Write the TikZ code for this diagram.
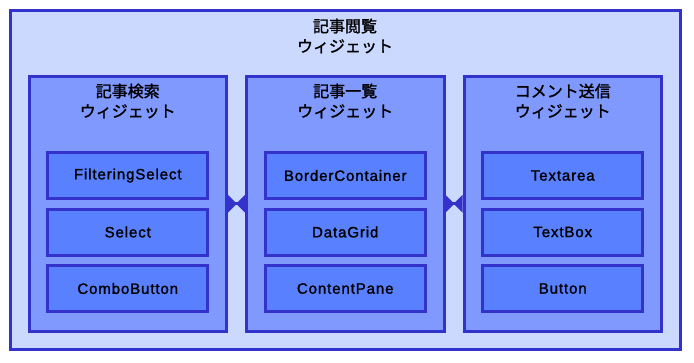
\documentclass[tikz,border=0pt]{standalone}
\usepackage{fontspec}
\setmainfont{Liberation Sans}[FakeBold=1.5]
\newfontfamily\jpfont{Noto Sans CJK JP}[FakeBold=1.5]
\usetikzlibrary{arrows.meta}
\definecolor{rim}{RGB}{51,51,204}
\definecolor{paleblue}{RGB}{204,217,255}
\definecolor{midblue}{RGB}{128,153,255}
\definecolor{deepblue}{RGB}{89,128,255}
\tikzset{
  frame/.style={draw=rim,line width=3pt,inner sep=0pt},
  panel/.style={frame,fill=midblue,minimum width=197.5pt,minimum height=254.5pt},
  part/.style={frame,fill=deepblue,minimum width=160pt,minimum height=46pt,
    font=\fontsize{15}{18}\selectfont\addfontfeatures{LetterSpace=6}},
  caption/.style={align=center,font=\jpfont\fontsize{16}{20}\selectfont},
  link/.style={draw=rim,fill=rim,line width=3pt,
    {Triangle[reversed,length=9pt,width=17pt]}-{Triangle[reversed,length=9pt,width=17pt]}}
}
\begin{document}
\begin{tikzpicture}[x=1pt,y=-1pt]
\useasboundingbox (0,0) rectangle (694,362);
\node[frame,fill=paleblue,minimum width=670pt,minimum height=339pt] (viewer) at (345,180) {};
\node[caption] (viewer-title) at (345,36) {記事閲覧\\ウィジェット};
\foreach \x/\name/\title in {127.75/search/記事検索,345.25/list/記事一覧,562.75/comment/コメント送信}{
  \node[panel] (\name) at (\x,203.75) {};
  \node[caption] (\name-title) at (\x,101) {\title\\ウィジェット};
}
\foreach \name/\labs in {search/{FilteringSelect,Select,ComboButton},
                         list/{BorderContainer,DataGrid,ContentPane},
                         comment/{Textarea,TextBox,Button}}{
  \foreach \lab [count=\i] in \labs {
    \pgfmathsetmacro\yy{119+56.5*\i}
    \node[part] (\name-\i) at (\name |- 0,\yy) {\lab};
  }
}
\draw[link] (search) -- (list);
\draw[link] (list) -- (comment);
\end{tikzpicture}
\end{document}
